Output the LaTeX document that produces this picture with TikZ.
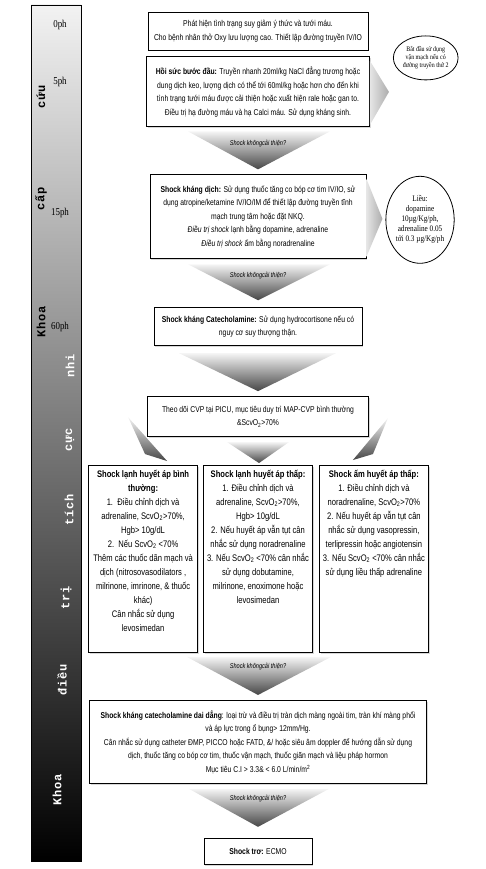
\documentclass[tikz,border=0pt]{standalone}
\usepackage{fontspec}
\setmainfont[FakeStretch=0.8]{Liberation Sans}
\newfontfamily\notefont[FakeStretch=0.85]{Liberation Serif}
\newfontfamily\barfont[LetterSpace=8]{Liberation Mono}
\usetikzlibrary{positioning, calc, shapes.geometric, shadows}
\newcommand{\colcontent}[1]{\parbox[c][178pt][t]{106pt}{\centering #1}}

\begin{document}
\begin{tikzpicture}[
    x=1pt, y=-1pt,
    box/.style={draw, fill=white, line width=0.9pt, align=center, inner sep=1pt,
                font=\fontsize{8.5}{13.5}\selectfont,
                drop shadow={shadow xshift=1.2pt, shadow yshift=-1.2pt, fill=gray!60}},
    colbox/.style={box, minimum width=109pt, minimum height=187pt,
                   font=\fontsize{9.5}{14}\selectfont},
    note/.style={ellipse, draw, fill=white, line width=0.8pt, inner sep=0pt, align=center},
    chev/.style={top color=gray!8, bottom color=gray!55!black},
    wedge/.style={left color=gray!20, right color=gray!65},
    cue/.style={font=\fontsize{7}{8}\selectfont\itshape},
    timelabel/.style={font=\notefont\fontsize{10.5}{10.5}\selectfont},
    ward/.style={rotate=90, font=\barfont\bfseries\fontsize{12}{12}\selectfont},
]
  \useasboundingbox (0,0) rectangle (485,869);

  % time bar
  \shade[top color=gray!10, bottom color=black, draw=black, line width=0.6pt]
    (31,5) rectangle (81,861);
  \foreach \t/\yy [count=\i] in {0ph/25, 5ph/82, 15ph/213, 60ph/327}
    \node[timelabel] (time\i) at (60,\yy) {\t};
  \foreach \w/\yy [count=\i] in {Khoa/322, cấp/199, cứu/97}
    \node[ward] (er\i) at (41,\yy) {\w};
  \foreach \w/\xx/\yy [count=\i] in {Khoa/57/790, điều/62/680, trị/66/598,
                                     tích/69/510, cực/70/440, nhi/70/366}
    \node[ward, text=white] (icu\i) at (\xx,\yy) {\w};

  % main column
  \node[box, minimum width=220pt, minimum height=38pt] (detect) at (258,31)
    {Phát hiện tình trạng suy giảm ý thức và tưới máu.\\
     Cho bệnh nhân thở Oxy lưu lượng cao. Thiết lập đường truyền IV/IO};
  \node[box, minimum width=223pt, minimum height=70pt, below=6pt of detect] (resus)
    {\textbf{Hồi sức bước đầu:} Truyền nhanh 20ml/kg NaCl đẳng trương hoặc\\
     dung dịch keo, lượng dịch có thể tới 60ml/kg hoặc hơn cho đến khi\\
     tình trạng tưới máu được cải thiện hoặc xuất hiện rale hoặc gan to.\\
     Điều trị hạ đường máu và hạ Calci máu. Sử dụng kháng sinh.};
  \node[box, minimum width=216pt, minimum height=84pt, below=47pt of resus] (fluid)
    {\textbf{Shock kháng dịch:} Sử dụng thuốc tăng co bóp cơ tim IV/IO, sử\\
     dụng atropine/ketamine IV/IO/IM để thiết lập đường truyền tĩnh\\
     mạch trung tâm hoặc đặt NKQ.\\
     \textit{Điều trị shock} lạnh bằng dopamine, adrenaline\\
     \textit{Điều trị shock} ấm bằng noradrenaline};
  \node[box, minimum width=208pt, minimum height=38pt, below=48pt of fluid] (catres)
    {\textbf{Shock kháng Catecholamine:} Sử dụng hydrocortisone nếu có\\
     nguy cơ suy thượng thận.};
  \node[box, minimum width=221pt, minimum height=40pt, below=50pt of catres] (cvp)
    {Theo dõi CVP tại PICU, mục tiêu duy trì MAP-CVP bình thường\\
     \&ScvO\textsubscript{2}>70\%};

  % three branches
  \node[colbox, below=28pt of cvp] (coldlow)
    {\colcontent{\textbf{Shock lạnh huyết áp thấp:}\\
     1. Điều chỉnh dịch và\\ adrenaline, ScvO\textsubscript{2}>70\%,\\ Hgb> 10g/dL\\
     2. Nếu huyết áp vẫn tụt cân\\ nhắc sử dụng noradrenaline\\
     3. Nếu ScvO\textsubscript{2} <70\% cân nhắc\\ sử dụng dobutamine,\\
     milrinone, enoximone hoặc\\ levosimedan}};
  \node[colbox, left=5pt of coldlow] (coldnorm)
    {\colcontent{\textbf{Shock lạnh huyết áp bình}\\ \textbf{thường:}\\
     1.\ \ Điều chỉnh dịch và\\ adrenaline, ScvO\textsubscript{2}>70\%,\\ Hgb> 10g/dL\\
     2.\ \ Nếu ScvO\textsubscript{2} <70\%\\ Thêm các thuốc dãn mạch và\\
     dịch (nitrosovasodilators ,\\ milrinone, imrinone, \& thuốc\\ khác)\\
     Cân nhắc sử dụng\\ levosimedan}};
  \node[colbox, right=6pt of coldlow] (warmlow)
    {\colcontent{\textbf{Shock ấm huyết áp thấp:}\\
     1. Điều chỉnh dịch và\\ noradrenaline, ScvO\textsubscript{2}>70\%\\
     2. Nếu huyết áp vẫn tụt cân\\ nhắc sử dụng vasopressin,\\
     terlipressin hoặc angiotensin\\
     3. Nếu ScvO\textsubscript{2} <70\% cân nhắc\\ sử dụng liều thấp adrenaline}};

  \node[box, minimum width=337pt, minimum height=83pt, below=47pt of coldlow] (persist)
    {\textbf{Shock kháng catecholamine dai dẳng}: loại trừ và điều trị tràn dịch màng ngoài tim, tràn khí màng phổi\\
     và áp lực trong ổ bụng> 12mm/Hg.\\
     Cân nhắc sử dụng catheter ĐMP, PICCO hoặc FATD, \&/ hoặc siêu âm doppler để hướng dẫn sử dụng\\
     dịch, thuốc tăng co bóp cơ tim, thuốc vận mạch, thuốc giãn mạch và liệu pháp hormon\\
     Mục tiêu C.I > 3.3\& < 6.0 L/min/m\textsuperscript{2}};
  \node[box, minimum width=108pt, minimum height=26pt, below=54pt of persist] (ecmo)
    {\textbf{Shock trơ:} ECMO};

  % side notes
  \node[note, minimum width=58pt, minimum height=44pt, right=23pt of resus, yshift=34pt,
        font=\notefont\fontsize{7}{8}\selectfont] (vasonote)
    {Bắt đầu sử dụng\\ vận mạch nếu có\\ đường truyền thứ 2};
  \node[note, minimum width=62pt, minimum height=87pt, right=19pt of fluid, yshift=-3pt,
        font=\notefont\fontsize{8.5}{10}\selectfont] (dosenote)
    {Liều:\\ dopamine\\ 10µg/Kg/ph,\\ adrenaline 0.05\\ tới 0.3 µg/Kg/ph};

  % side wedges
  \shade[wedge] ($(resus.east)+(0,-31)$) -- ($(resus.east)+(19,0)$) -- ($(resus.east)+(0,33)$) -- cycle;
  \shade[wedge] ($(fluid.east)+(0,-38)$) -- ($(fluid.east)+(16,2)$) -- ($(fluid.east)+(0,40)$) -- cycle;

  % down chevrons
  \shade[chev] ($(resus.south)+(-70,4)$) -- ($(resus.south)+(72,4)$) -- ($(fluid.north)+(0,-5)$) -- cycle;
  \node[cue] (cue1) at ($(resus.south)+(0,16)$) {Shock khôngcải thiện?};
  \shade[chev] ($(fluid.south)+(-70,5)$) -- ($(fluid.south)+(72,5)$) -- ($(catres.north)+(0,-7)$) -- cycle;
  \node[cue] (cue2) at ($(fluid.south)+(0,16)$) {Shock khôngcải thiện?};
  \shade[chev] ($(catres.south)+(-79,7)$) -- ($(catres.south)+(78,7)$) -- ($(cvp.north)+(0,-5)$) -- cycle;
  \shade[chev] ($(cvp.south west)+(-19,-20)$) -- ($(cvp.south west)+(-2,17)$) -- ($(coldnorm.north)+(24,-4)$) -- cycle;
  \shade[chev] ($(cvp.south)+(-31,5)$) -- ($(cvp.south)+(31,5)$) -- ($(coldlow.north)+(1,-2)$) -- cycle;
  \shade[chev] ($(cvp.south east)+(19,-19)$) -- ($(cvp.south east)+(4,17)$) -- ($(warmlow.north)+(-21,-5)$) -- cycle;
  \shade[chev] ($(coldlow.south)+(-71,4)$) -- ($(coldlow.south)+(73,4)$) -- ($(persist.north)+(0,-5)$) -- cycle;
  \node[cue] (cue4) at ($(coldlow.south)+(0,14)$) {Shock khôngcải thiện?};
  \shade[chev] ($(persist.south)+(-69,5)$) -- ($(persist.south)+(71,5)$) -- ($(ecmo.north)+(0,-11)$) -- cycle;
  \node[cue] (cue5) at ($(persist.south)+(0,15)$) {Shock khôngcải thiện?};
\end{tikzpicture}
\end{document}
